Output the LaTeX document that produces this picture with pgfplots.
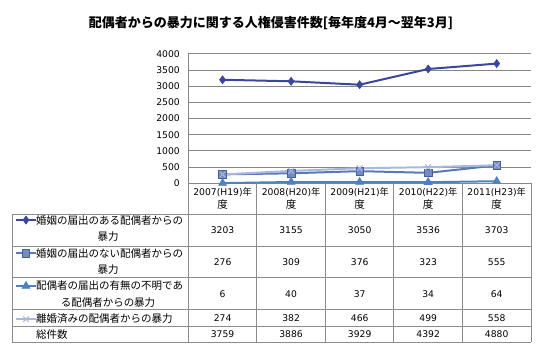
\documentclass[border=0pt]{standalone}
\usepackage{fontspec}
\setmainfont{DejaVu Sans}
\newfontfamily\jp{Noto Sans CJK JP}
\usepackage{pgfplots}
\pgfplotsset{compat=1.18}
\definecolor{s1}{HTML}{3B469C}
\definecolor{s2}{HTML}{5A78B8}
\definecolor{s3}{HTML}{4F81BD}
\definecolor{s4}{HTML}{A7B9DC}
\definecolor{gridc}{HTML}{878787}
\definecolor{tabc}{HTML}{8C8C8C}
\newcommand{\nf}{\fontsize{9.2}{10}\selectfont}
\newcommand{\jf}{\jp\fontsize{10.5}{12}\selectfont}
\begin{document}
\begin{tikzpicture}[x=1pt,y=1pt]
\path[use as bounding box] (0pt,0pt) rectangle (542pt,352pt);
\begin{axis}[
  at={(188.3pt,168.7pt)}, anchor=south west,
  width=342.7pt, height=129.3pt, scale only axis,
  xmin=-0.5, xmax=4.5, ymin=0, ymax=4000,
  axis x line=none,
  axis y line*=left,
  axis line style={gridc, line width=1pt, -},
  ytick={0,500,...,4000},
  ymajorgrids, grid style={gridc, line width=1pt},
  major tick length=0pt,
  yticklabel style={font=\nf, inner sep=0pt, xshift=-8.3pt},
  /pgf/number format/assume math mode=true,
  /pgf/number format/1000 sep={},
  clip=false,
  legend style={draw=none, fill=none, inner sep=0pt, outer sep=0pt, row sep=0pt, column sep=0pt,
    at={(axis description cs:-0.50569,-0.15667)}, anchor=north west,
    nodes={inner sep=0pt, outer sep=0pt}},
  legend image code/.code={\draw[mark repeat=2,mark phase=2] plot coordinates {(0pt,0pt) (10pt,0pt) (20pt,0pt)}; \path (0pt,-15.5pt) (20pt,15.5pt);},
]
\addplot[s1, line width=2pt, mark=diamond*, mark size=4pt, mark options={fill=s1, draw=s1, line width=0.6pt}] coordinates {(0,3203)(1,3155)(2,3050)(3,3536)(4,3703)};
\addlegendentry{}
\addplot[s2, line width=2pt, mark=square*, mark size=3.8pt, mark options={fill=s2!85!white, draw=s2!80!black, line width=0.6pt}] coordinates {(0,276)(1,309)(2,376)(3,323)(4,555)};
\addlegendentry{}
\addplot[s3, line width=2pt, mark=triangle*, mark size=4.6pt, mark options={fill=s3, draw=s3, line width=0.6pt}] coordinates {(0,6)(1,40)(2,37)(3,34)(4,64)};
\addlegendentry{}
\addplot[s4, line width=2pt, mark=x, mark size=4pt, mark options={line width=1pt}] coordinates {(0,274)(1,382)(2,466)(3,499)(4,558)};
\addlegendentry{}
\end{axis}
% title
\node[font=\jp\bfseries\fontsize{13}{15}\selectfont] at (271pt,329pt) {配偶者からの暴力に関する人権侵害件数[毎年度4月～翌年3月]};
% table lines
\begin{scope}[tabc, line width=1pt]
\draw (188.3pt,168.7pt) -- (188.3pt,9.7pt);
\foreach \x in {256.8,325.4,393.9,462.5,531} \draw (\x pt,168.7pt) -- (\x pt,9.7pt);
\draw (12.3pt,137.5pt) -- (12.3pt,9.7pt);
\foreach \y in {137.5,105.7,74.7,42,25.3,9.7} \draw (12.3pt,\y pt) -- (531pt,\y pt);
\end{scope}
% category labels
\foreach \x/\a/\b in {222.6/2007/19, 291.1/2008/20, 359.7/2009/21, 428.2/2010/22, 496.7/2011/23} {
  \node[font=\nf, inner sep=0pt] at (\x pt,159.3pt) {\a(H\b){\jp 年}};
  \node[font=\jf, inner sep=0pt] at (\x pt,147.2pt) {度};
}
% numbers
\foreach \x/\a/\b/\c/\d/\e in {222.6/3203/276/6/274/3759, 291.1/3155/309/40/382/3886, 359.7/3050/376/37/466/3929, 428.2/3536/323/34/499/4392, 496.7/3703/555/64/558/4880} {
  \node[font=\nf, inner sep=0pt] at (\x pt,121.6pt) {\a};
  \node[font=\nf, inner sep=0pt] at (\x pt,90.2pt) {\b};
  \node[font=\nf, inner sep=0pt] at (\x pt,58.3pt) {\c};
  \node[font=\nf, inner sep=0pt] at (\x pt,33.7pt) {\d};
  \node[font=\nf, inner sep=0pt] at (\x pt,17.5pt) {\e};
}
% row labels
\node[font=\jf, inner sep=0pt, anchor=west] at (36pt,131pt) {婚姻の届出のある配偶者からの};
\node[font=\jf, inner sep=0pt] at (108pt,115.3pt) {暴力};
\node[font=\jf, inner sep=0pt, anchor=west] at (36pt,98.7pt) {婚姻の届出のない配偶者からの};
\node[font=\jf, inner sep=0pt] at (108pt,82pt) {暴力};
\node[font=\jf, inner sep=0pt, anchor=west] at (36pt,66.4pt) {配偶者の届出の有無の不明であ};
\node[font=\jf, inner sep=0pt] at (108pt,49.5pt) {る配偶者からの暴力};
\node[font=\jf, inner sep=0pt, anchor=west] at (36pt,33.7pt) {離婚済みの配偶者からの暴力};
\node[font=\jf, inner sep=0pt, anchor=west] at (36pt,17.5pt) {総件数};
\end{tikzpicture}
\end{document}
